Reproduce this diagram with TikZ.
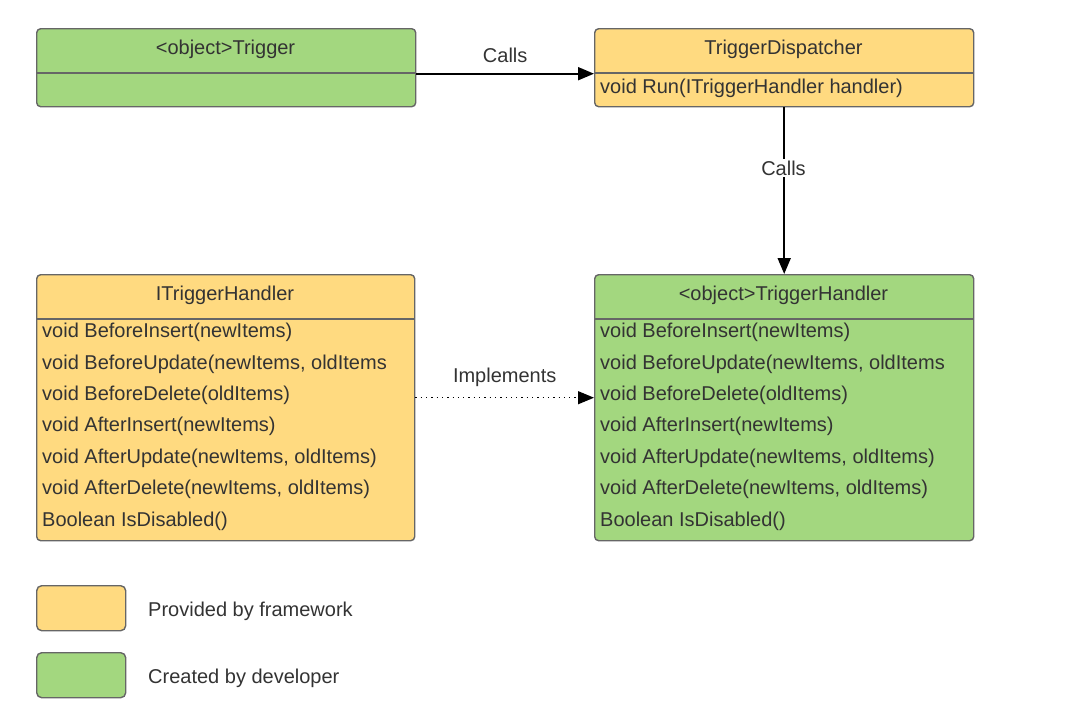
\documentclass[tikz,border=0pt]{standalone}
\usepackage{fontspec}
\setmainfont{Liberation Sans}
\usetikzlibrary{arrows.meta}
\definecolor{lgreen}{HTML}{A3D77F}
\definecolor{lyellow}{HTML}{FFDA80}
\definecolor{bord}{HTML}{666666}
\definecolor{txt}{HTML}{333333}
\tikzset{
  box/.style={draw=bord, line width=1.4pt, rounded corners=4pt, anchor=north west, inner sep=0pt},
  gbox/.style={box, fill=lgreen},
  ybox/.style={box, fill=lyellow},
  ttl/.style={text=txt, font=\fontsize{20}{24}\selectfont, inner sep=0pt},
  row/.style={ttl, anchor=west},
  divline/.style={draw=bord, line width=1.4pt},
  conn/.style={line width=1.9pt, -{Triangle[length=16pt,width=13pt]}},
  dotconn/.style={line width=1.2pt, dash pattern=on 1.3pt off 4pt, -{Triangle[length=16pt,width=13pt]}},
  lbl/.style={ttl, text=txt},
}
\begin{document}
\begin{tikzpicture}[x=1pt,y=-1pt]
\useasboundingbox (0,0) rectangle (1072,716);
% top boxes
\node[gbox, minimum width=379pt, minimum height=78pt] (trig) at (36,28) {};
\draw[divline] (36,73) -- (415,73);
\node[ttl] (trigt) at (225.5,49) {<object>Trigger};
\node[ybox, minimum width=379pt, minimum height=78pt] (disp) at (594,28) {};
\draw[divline] (594,73) -- (973,73);
\node[ttl] (dispt) at (783.5,49) {TriggerDispatcher};
\node[row] (disprun) at (600,88.5) {void Run(ITriggerHandler handler)};
% lower boxes
\node[ybox, minimum width=378pt, minimum height=266pt] (ith) at (36,274) {};
\draw[divline] (36,319) -- (414,319);
\node[ttl] (itht) at (225,295) {ITriggerHandler};
\node[gbox, minimum width=379pt, minimum height=266pt] (th) at (594,274) {};
\draw[divline] (594,319) -- (973,319);
\node[ttl] (tht) at (783.5,295) {<object>TriggerHandler};
\foreach \x/\p in {42/a,600/b}{
  \node[row] (\p1) at (\x,332.5) {void BeforeInsert(newItems)};
  \node[row] (\p2) at (\x,364) {void BeforeUpdate(newItems, oldItems};
  \node[row] (\p3) at (\x,395.5) {void BeforeDelete(oldItems)};
  \node[row] (\p4) at (\x,426.5) {void AfterInsert(newItems)};
  \node[row] (\p5) at (\x,458) {void AfterUpdate(newItems, oldItems)};
  \node[row] (\p6) at (\x,489.5) {void AfterDelete(newItems, oldItems)};
  \node[row] (\p7) at (\x,521) {Boolean IsDisabled()};
}
% connectors
\draw[conn] ([yshift=-6pt]trig.east) -- node[lbl, above=10pt] (c1) {Calls} ([yshift=-6pt]disp.west);
\draw[conn] (disp.south) -- (th.north);
\node[lbl, fill=white, inner sep=2pt] (c2) at (783.5,168) {Calls};
\draw[dotconn] ([yshift=10pt]ith.east) -- node[lbl, above=10pt] (c3) {Implements} ([yshift=10pt]th.west);
% legend
\node[ybox, minimum width=89pt, minimum height=45pt, rounded corners=5pt] (leg1) at (36,585) {};
\node[row] (leg1t) at (148,611) {Provided by framework};
\node[gbox, minimum width=89pt, minimum height=45pt, rounded corners=5pt] (leg2) at (36,652) {};
\node[row] (leg2t) at (148,678.5) {Created by developer};
\end{tikzpicture}
\end{document}
